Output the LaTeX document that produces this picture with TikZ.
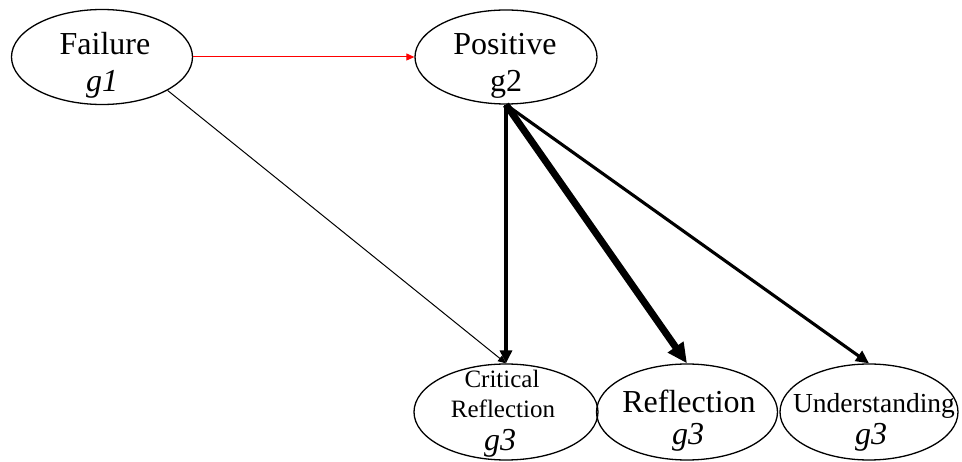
\documentclass[tikz,border=0pt]{standalone}
\usepackage{fontspec}
\setmainfont{Liberation Serif}
\usetikzlibrary{shapes.geometric,arrows.meta}
\begin{document}
\begin{tikzpicture}[x=1pt,y=-1pt,
  state/.style={draw,ellipse,line width=1.3pt,inner sep=0pt},
  big/.style={font=\fontsize{32}{36}\selectfont,anchor=base,inner sep=0pt},
  mid/.style={font=\fontsize{27.5}{30}\selectfont,anchor=base,inner sep=0pt},
  small/.style={font=\fontsize{25}{28}\selectfont,anchor=base,inner sep=0pt},
  thin/.style={line width=1pt,-{Triangle[length=8pt,width=7pt]}},
  medium/.style={line width=3.1pt,-{Triangle[length=13pt,width=12pt]}},
  heavy/.style={line width=7pt,-{Triangle[length=20pt,width=18pt]}}]
\useasboundingbox (0,0) rectangle (962,462);
% ellipses
\node[state,minimum width=181pt,minimum height=95pt] (fail) at (102,57) {};
\node[state,minimum width=182pt,minimum height=94pt] (pos)  at (506,57) {};
\node[state,minimum width=184pt,minimum height=96pt] (crit) at (506,412) {};
\node[state,minimum width=181pt,minimum height=96pt] (refl) at (687,412) {};
\node[state,minimum width=178pt,minimum height=96pt] (und)  at (869,412) {};
% labels
\node[big] (failtxt) at (105,55) {Failure};
\node[big] (failg)   at (102,92) {\itshape g1};
\node[big] (postxt)  at (505,55) {Positive};
\node[big] (posg)    at (506,92) {g2};
\node[small] (crit1) at (502,388) {Critical};
\node[small] (crit2) at (503,418) {Reflection};
\node[big] (critg)   at (500,450) {\itshape g3};
\node[big] (refltxt) at (689,413) {Reflection};
\node[big] (reflg)   at (688,445) {\itshape g3};
\node[mid] (undtxt)  at (874,413) {Understanding};
\node[big] (undg)    at (871,445) {\itshape g3};
% connectors
\draw[thin,red] (fail.east) -- (pos.west);
\draw[thin] (fail.-27) -- (crit.north);
\draw[medium] (pos.south) -- (crit.north);
\draw[heavy] (pos.south) -- (refl.north);
\draw[medium] (pos.south) -- (und.north);
\end{tikzpicture}
\end{document}
